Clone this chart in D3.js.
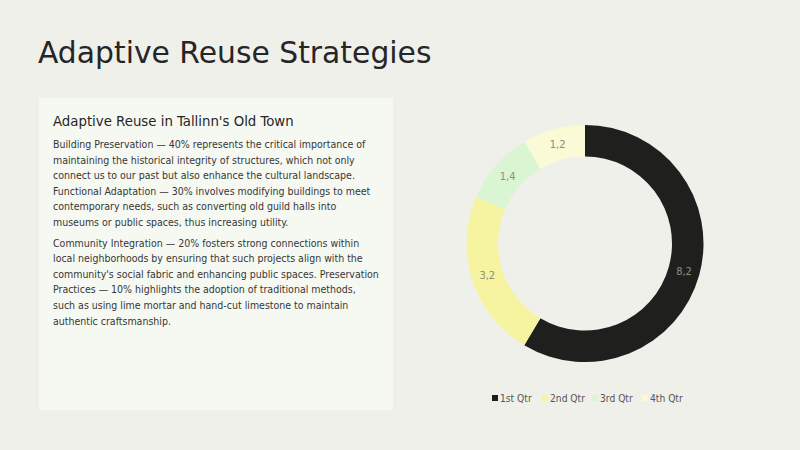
<!DOCTYPE html>
<html>
<head>
<meta charset="utf-8">
<script src="https://cdn.jsdelivr.net/npm/d3@7"></script>
<style>
  html, body { margin: 0; padding: 0; background: #f0f0eb; }
  svg { display: block; font-family: "DejaVu Sans", Verdana, sans-serif; }
  .narrow { font-family: "DejaVu Sans Condensed", "DejaVu Sans", sans-serif; font-stretch: condensed; }
</style>
</head>
<body>
<div id="chart"></div>
<script>
// Donut data, clockwise from 12 o'clock.
const quarters = ["1st Qtr", "2nd Qtr", "3rd Qtr", "4th Qtr"];
const sales = [8.2, 3.2, 1.4, 1.2];
const colors = ["#1f1f1d", "#f6f4a0", "#d9f5d2", "#fafad6"];

const title = "Adaptive Reuse Strategies";
const panelTitle = "Adaptive Reuse in Tallinn's Old Town";
// Lines kept as wrapped in the picture.
const paragraphs = [
  [
    "Building Preservation — 40% represents the critical importance of",
    "maintaining the historical integrity of structures, which not only",
    "connect us to our past but also enhance the cultural landscape.",
    "Functional Adaptation — 30% involves modifying buildings to meet",
    "contemporary needs, such as converting old guild halls into",
    "museums or public spaces, thus increasing utility.",
  ],
  [
    "Community Integration — 20% fosters strong connections within",
    "local neighborhoods by ensuring that such projects align with the",
    "community's social fabric and enhancing public spaces. Preservation",
    "Practices — 10% highlights the adoption of traditional methods,",
    "such as using lime mortar and hand-cut limestone to maintain",
    "authentic craftsmanship.",
  ],
];

const width = 800;
const height = 450;

const svg = d3.select("#chart")
  .append("svg")
  .attr("width", width)
  .attr("height", height);

svg.append("rect")
  .attr("width", width)
  .attr("height", height)
  .attr("fill", "#f0f0eb");

// ---- heading ----
svg.append("text")
  .attr("x", 38)
  .attr("y", 63)
  .attr("font-size", 29.8)
  .attr("fill", "#262626")
  .text(title);

// ---- text panel ----
svg.append("rect")
  .attr("x", 39)
  .attr("y", 98)
  .attr("width", 354)
  .attr("height", 312)
  .attr("fill", "#f6f9f2");

svg.append("text")
  .attr("class", "narrow")
  .attr("x", 53)
  .attr("y", 126)
  .attr("font-size", 14.8)
  .attr("fill", "#262626")
  .text(panelTitle);

const lineHeight = 15.6;
let y = 148;
paragraphs.forEach((lines) => {
  const block = svg.append("text")
    .attr("class", "narrow")
    .attr("font-size", 10.5)
    .attr("fill", "#363636");
  lines.forEach((line, i) => {
    block.append("tspan")
      .attr("x", 53)
      .attr("y", y + i * lineHeight)
      .text(line);
  });
  y += lines.length * lineHeight + 5;
});

// ---- donut ----
const cx = 585;
const cy = 243.5;
const outer = 118.5;
const inner = 87;

const pie = d3.pie().sort(null)(sales);
const arc = d3.arc().innerRadius(inner).outerRadius(outer);

const donut = svg.append("g").attr("transform", `translate(${cx},${cy})`);

donut.selectAll("path")
  .data(pie)
  .enter()
  .append("path")
  .attr("d", arc)
  .attr("fill", (d, i) => colors[i]);

const fmt = (v) => d3.format(".1f")(v).replace(".", ",");

donut.selectAll("text")
  .data(pie)
  .enter()
  .append("text")
  .attr("class", "narrow")
  .attr("transform", (d) => `translate(${arc.centroid(d)})`)
  .attr("text-anchor", "middle")
  .attr("dy", "0.35em")
  .attr("font-size", 11)
  .attr("fill", "#8d8d84")
  .text((d) => fmt(d.data));

// ---- legend ----
const legendX = d3.scalePoint()
  .domain(quarters)
  .range([492, 642]);

const legend = svg.append("g");
const item = legend.selectAll("g")
  .data(quarters)
  .enter()
  .append("g")
  .attr("transform", (d) => `translate(${legendX(d)},398)`);

item.append("rect")
  .attr("x", 0)
  .attr("y", -3)
  .attr("width", 6)
  .attr("height", 6)
  .attr("fill", (d, i) => colors[i]);

item.append("text")
  .attr("class", "narrow")
  .attr("x", 8)
  .attr("dy", "0.35em")
  .attr("font-size", 10.2)
  .attr("fill", "#555555")
  .text((d) => d);
</script>
</body>
</html>
